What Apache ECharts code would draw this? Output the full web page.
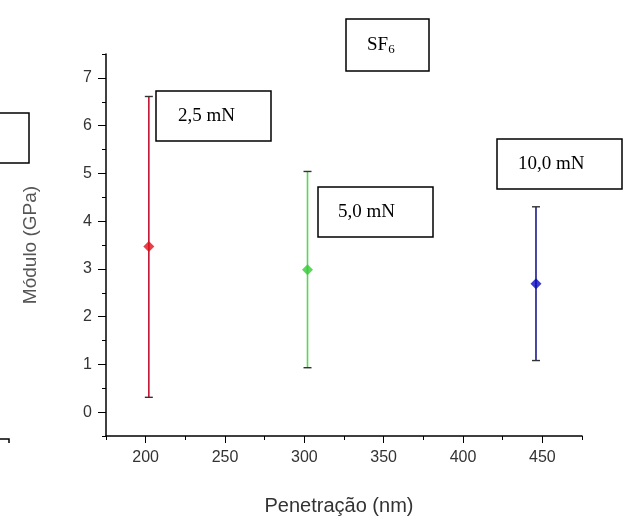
<!DOCTYPE html>
<html>
<head>
<meta charset="utf-8">
<script src="https://cdn.jsdelivr.net/npm/echarts@6/dist/echarts.min.js"></script>
<style>
  html, body { margin: 0; padding: 0; background: #fff; }
  #chart { width: 623px; height: 521px; }
</style>
</head>
<body>
<div id="chart"></div>
<script>
// dados
var penetracao = [202, 302, 446];
var modulo = [3.47, 2.98, 2.69];
var erroMin = [0.31, 0.93, 1.08];
var erroMax = [6.61, 5.04, 4.30];
var cargas = ['2,5 mN', '5,0 mN', '10,0 mN'];
var xTicks = [200, 250, 300, 350, 400, 450];
var xMinor = [175, 225, 275, 325, 375, 425, 475];
var yTicks = [0, 1, 2, 3, 4, 5, 6, 7];
var yMinor = [-0.5, 0.5, 1.5, 2.5, 3.5, 4.5, 5.5, 6.5, 7.5];

var corLinha = ['#c2122e', '#55d855', '#1c1c8c'];
var corPonto = ['#e0101a', '#33cc33', '#0a0ac0'];

var myChart = echarts.init(document.getElementById('chart'));

var barras = penetracao.map(function (x, i) {
    return { value: [x, erroMin[i], erroMax[i]], itemStyle: { color: corLinha[i] } };
});
var pontos = penetracao.map(function (x, i) {
    return { value: [x, modulo[i]], itemStyle: { color: corPonto[i] } };
});

var serif = 'Liberation Serif, Times New Roman, serif';
function caixa(x, y, w, h, txt, tx) {
    return {
        type: 'group',
        children: [
            { type: 'rect', shape: { x: x, y: y, width: w, height: h },
              style: { fill: '#fff', stroke: '#000', lineWidth: 1.5 } },
            { type: 'text', x: tx, y: y + h / 2,
              style: { text: txt, font: '19px ' + serif, fill: '#000', verticalAlign: 'middle' } }
        ]
    };
}

var option = {
    animation: false,
    grid: { left: 106, right: 41, top: 54, bottom: 85 },
    xAxis: [{
        type: 'value',
        min: 175,
        max: 475,
        name: 'Penetração (nm)',
        nameLocation: 'middle',
        nameGap: 60,
        nameTextStyle: { fontFamily: 'Liberation Sans, Arial', fontSize: 20, color: '#333', padding: [0, 10, 0, 0] },
        axisLine: { show: true, onZero: false, lineStyle: { color: '#000', width: 1.5 } },
        axisTick: { show: true, inside: false, length: 7, customValues: xTicks, lineStyle: { color: '#000' } },
        axisLabel: { customValues: xTicks, margin: 14, fontFamily: 'Liberation Sans, Arial', fontSize: 16, color: '#333' },
        splitLine: { show: false }
    }, {
        type: 'value',
        position: 'bottom',
        min: 175,
        max: 475,
        axisLine: { show: false, onZero: false },
        axisTick: { show: true, length: 4, customValues: xMinor, lineStyle: { color: '#000' } },
        axisLabel: { show: false },
        splitLine: { show: false }
    }],
    yAxis: [{
        type: 'value',
        min: -0.5,
        max: 7.5,
        name: 'Módulo (GPa)',
        nameLocation: 'middle',
        nameGap: 66,
        nameTextStyle: { fontFamily: 'Liberation Sans, Arial', fontSize: 19, color: '#555' },
        axisLine: { show: true, onZero: false, lineStyle: { color: '#000', width: 1.5 } },
        axisTick: { show: true, inside: false, length: 8, customValues: yTicks, lineStyle: { color: '#000' } },
        axisLabel: { customValues: yTicks, margin: 14, fontFamily: 'Liberation Sans, Arial', fontSize: 16, color: '#333' },
        splitLine: { show: false }
    }, {
        type: 'value',
        position: 'left',
        min: -0.5,
        max: 7.5,
        axisLine: { show: false, onZero: false },
        axisTick: { show: true, length: 4, customValues: yMinor, lineStyle: { color: '#000' } },
        axisLabel: { show: false },
        splitLine: { show: false }
    }],
    series: [{
        type: 'custom',
        xAxisIndex: 0,
        yAxisIndex: 0,
        data: barras,
        renderItem: function (params, api) {
            var topo = api.coord([api.value(0), api.value(2)]);
            var base = api.coord([api.value(0), api.value(1)]);
            var cor = api.visual('color');
            var w = 4;
            var st = { stroke: cor, lineWidth: 1.6 };
            var cap = { stroke: '#333', lineWidth: 1.4 };
            return {
                type: 'group',
                children: [
                    { type: 'line', shape: { x1: topo[0], y1: topo[1], x2: base[0], y2: base[1] }, style: st },
                    { type: 'line', shape: { x1: topo[0] - w, y1: topo[1], x2: topo[0] + w, y2: topo[1] }, style: cap },
                    { type: 'line', shape: { x1: base[0] - w, y1: base[1], x2: base[0] + w, y2: base[1] }, style: cap }
                ]
            };
        },
        z: 2
    }, {
        type: 'scatter',
        xAxisIndex: 0,
        yAxisIndex: 0,
        symbol: 'diamond',
        symbolSize: 11,
        data: pontos,
        z: 3
    }],
    graphic: [
        caixa(346, 19, 83, 52, '', 0),
        { type: 'text', x: 367, y: 45,
          style: { text: '{a|SF}{b|6}', verticalAlign: 'middle',
                   rich: { a: { font: '19px ' + serif, fill: '#000' },
                           b: { font: '13px ' + serif, fill: '#000', padding: [10, 0, 0, 0] } } } },
        caixa(156, 91, 115, 50, cargas[0], 178),
        caixa(318, 187, 115, 50, cargas[1], 338),
        caixa(497, 139, 125, 50, cargas[2], 518),
        { type: 'rect', shape: { x: -3, y: 113, width: 32, height: 50 },
          style: { fill: 'none', stroke: '#000', lineWidth: 1.5 } },
        { type: 'polyline', shape: { points: [[0, 439], [9, 439], [9, 443]] },
          style: { fill: 'none', stroke: '#000', lineWidth: 1.5 } }
    ]
};

myChart.setOption(option);
</script>
</body>
</html>
